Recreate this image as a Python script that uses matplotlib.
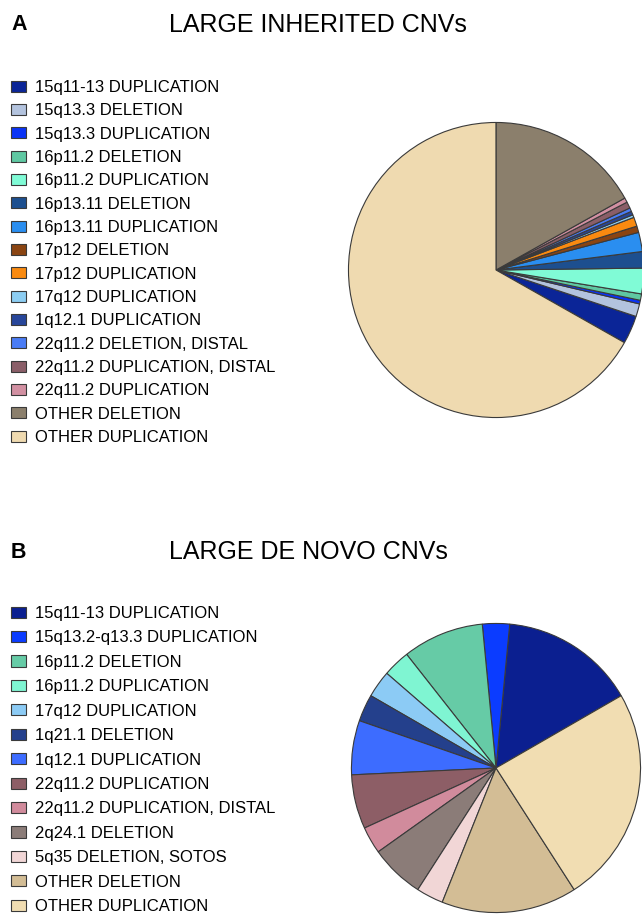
import matplotlib.pyplot as plt

plt.rcParams["font.family"] = ["Liberation Sans", "DejaVu Sans"]

# ---- panel A: large inherited CNVs (approx. % of slices) ----
inh_labels = [
    "15q11-13 DUPLICATION",
    "15q13.3 DELETION",
    "15q13.3 DUPLICATION",
    "16p11.2 DELETION",
    "16p11.2 DUPLICATION",
    "16p13.11 DELETION",
    "16p13.11 DUPLICATION",
    "17p12 DELETION",
    "17p12 DUPLICATION",
    "17q12 DUPLICATION",
    "1q12.1 DUPLICATION",
    "22q11.2 DELETION, DISTAL",
    "22q11.2 DUPLICATION, DISTAL",
    "22q11.2 DUPLICATION",
    "OTHER DELETION",
    "OTHER DUPLICATION",
]
inh_values = [3.1, 1.4, 0.4, 0.7, 2.8, 1.8, 2.1, 0.7, 1.0, 0.3, 0.4, 0.4, 0.7, 0.5, 16.9, 66.8]
inh_colors = [
    "#0b2597", "#b3c3de", "#0a33f5", "#5fc8a2", "#80fbd6", "#1d4f8f",
    "#2a8ef0", "#8a4412", "#f98a10", "#8ccdf2", "#27469a", "#4a7cf5",
    "#8a5e68", "#d290a2", "#8b7f6c", "#efdab0",
]

# ---- panel B: large de novo CNVs (counts) ----
dn_labels = [
    "15q11-13 DUPLICATION",
    "15q13.2-q13.3 DUPLICATION",
    "16p11.2 DELETION",
    "16p11.2 DUPLICATION",
    "17q12 DUPLICATION",
    "1q21.1 DELETION",
    "1q12.1 DUPLICATION",
    "22q11.2 DUPLICATION",
    "22q11.2 DUPLICATION, DISTAL",
    "2q24.1 DELETION",
    "5q35 DELETION, SOTOS",
    "OTHER DELETION",
    "OTHER DUPLICATION",
]
dn_values = [5, 1, 3, 1, 1, 1, 2, 2, 1, 2, 1, 5, 8]
dn_colors = [
    "#0b1f90", "#0b3cff", "#66cba6", "#7ff5d2", "#8ccbf5", "#24408c",
    "#3d6cff", "#8d5e66", "#d18b9c", "#8b7c78", "#f1d6d6", "#d3bd95",
    "#f1ddb2",
]

W, H = 642, 915
fig = plt.figure(figsize=(W / 100, H / 100), dpi=100)


def pie_axes(cx, cy, r):
    return fig.add_axes([(cx - r) / W, (H - cy - r) / H, 2 * r / W, 2 * r / H])


def draw_panel(letter, title, base_y, labels, values, colors, start,
               cx, cy, r, leg_top, spacing):
    # panel letter and title (pixel positions from the top)
    fig.text(11 / W, 1 - (base_y - 1.5) / H, letter, fontsize=15.5,
             fontweight="bold", ha="left", va="baseline")
    fig.text(169 / W, 1 - base_y / H, title, fontsize=18,
             ha="left", va="baseline")
    ax = pie_axes(cx, cy, r)
    wedges, _ = ax.pie(values, colors=colors, startangle=start, counterclock=True,
                       radius=1.0,
                       wedgeprops=dict(edgecolor="#3a3a3a", linewidth=0.8))
    ax.set_xlim(-1.01, 1.01)
    ax.set_ylim(-1.01, 1.01)
    ax.set_aspect("equal")
    for w in wedges:
        w.set_clip_on(False)
    fig.legend(wedges, labels, loc="upper left",
               bbox_to_anchor=(11 / W, 1 - leg_top / H),
               bbox_transform=fig.transFigure, frameon=False,
               fontsize=12, handlelength=0.9, handleheight=0.65,
               handletextpad=0.54, labelspacing=spacing,
               borderpad=0, borderaxespad=0)


draw_panel("A", "LARGE INHERITED CNVs", 32, inh_labels, inh_values,
           inh_colors, -29.5, 496, 270, 149, 80, 0.50)
draw_panel("B", "LARGE DE NOVO CNVs", 559, dn_labels, dn_values,
           dn_colors, 30, 496, 768, 146, 606, 0.566)

fig.savefig("out.png", dpi=100)
